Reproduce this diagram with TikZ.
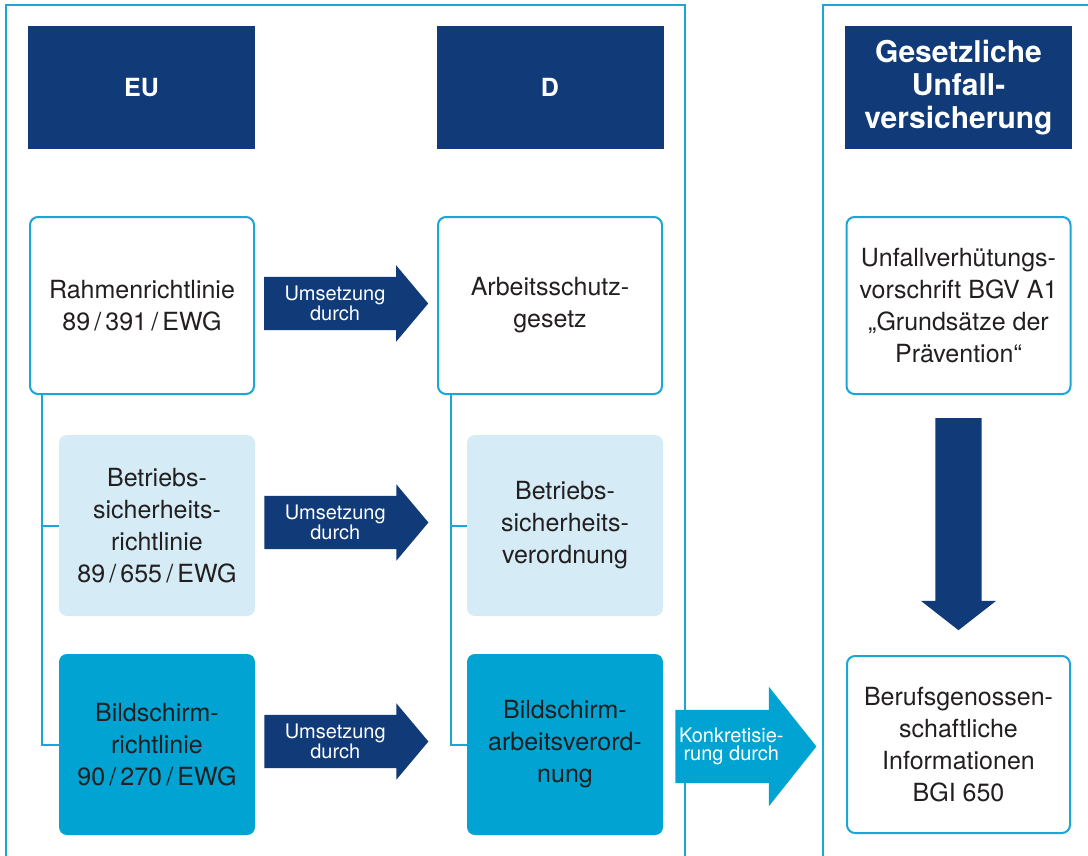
\documentclass[tikz,border=0pt]{standalone}
\usepackage{fontspec}
\setmainfont{TeX Gyre Heros}
\usetikzlibrary{shapes.arrows}
\definecolor{bgblue}{HTML}{103A78}
\definecolor{bgcyan}{HTML}{1AA6D6}
\definecolor{bglight}{HTML}{D5ECF6}
\definecolor{bgdark}{HTML}{00A3D1}
\definecolor{bgtext}{HTML}{231F20}

\begin{document}
\begin{tikzpicture}[x=1pt, y=-1pt,
    head/.style={fill=bgblue, text=white, font=\fontsize{25}{33}\selectfont\bfseries,
      minimum width=227pt, minimum height=123pt, inner sep=0pt, align=center},
    box/.style={rounded corners=8pt, text=bgtext, font=\fontsize{25}{32}\selectfont,
      inner sep=0pt, align=center},
    lawbox/.style={box, draw=bgcyan, line width=2pt, fill=white, minimum width=224pt, minimum height=177pt},
    lightbox/.style={box, fill=bglight, minimum width=196pt, minimum height=181pt},
    darkbox/.style={box, fill=bgdark, minimum width=196pt, minimum height=181pt},
    umsetz/.style={single arrow, fill=bgblue, text=white, font=\fontsize{20}{17}\selectfont,
      align=center, single arrow head extend=11.5pt, single arrow tip angle=100,
      minimum height=164pt, inner xsep=2pt, inner ysep=9pt, anchor=tail},
    konkr/.style={umsetz, fill=bgdark, font=\fontsize{20}{18}\selectfont,
      single arrow head extend=23pt, single arrow tip angle=103, minimum height=141pt, inner ysep=18pt},
    downarrow/.style={single arrow, fill=bgblue, rotate=-90, anchor=tail, inner xsep=0pt, inner ysep=23pt,
      single arrow head extend=14.5pt, single arrow tip angle=104, minimum height=212pt},
    frame/.style={draw=bgcyan, line width=2pt},
    tree/.style={draw=bgcyan, line width=2pt}]

    \useasboundingbox (0,0) rectangle (1088,855);
    \draw[frame] (6,862) |- (685,5) -- (685,862);
    \draw[frame] (823,862) |- (1094,5);

    \node[head] (eu) at (141.5,87.5) {EU};
    \node[head] (d) at (550,87.5) {D};
    \node[head, font=\fontsize{30}{33}\selectfont\bfseries] (guv) at (958.5,87.5) {Gesetzliche\\Unfall-\\versicherung};

    \node[lawbox] (rahmen) at (142,305.5) {Rahmenrichtlinie\\89\,/\,391\,/\,EWG};
    \node[lawbox] (asg) at (550,305.5) {Arbeitsschutz-\\gesetz};
    \node[lawbox] (uvv) at (958.5,305.5) {Unfallverhütungs-\\vorschrift BGV A1\\„Grundsätze der\\Prävention“};

    \node[lightbox] (bsrl) at (157,525.5) {Betriebs-\\sicherheits-\\richtlinie\\89\,/\,655\,/\,EWG};
    \node[lightbox] (bsv) at (565,525.5) {Betriebs-\\sicherheits-\\verordnung};

    \node[darkbox] (bildrl) at (157,744.5) {Bildschirm-\\richtlinie\\90\,/\,270\,/\,EWG};
    \node[darkbox] (bav) at (565,744.5) {Bildschirm-\\arbeitsverord-\\nung};
    \node[lawbox, minimum width=223pt] (bgi) at (958.5,744.5) {Berufsgenossen-\\schaftliche\\Informationen\\BGI 650};

    \draw[tree] ([xshift=13pt]rahmen.south west) |- (bsrl.west);
    \draw[tree] ([xshift=13pt]rahmen.south west) |- (bildrl.west);
    \draw[tree] ([xshift=14pt]asg.south west) |- (bsv.west);
    \draw[tree] ([xshift=14pt]asg.south west) |- (bav.west);

    \node[umsetz] (u1) at ([xshift=9pt,yshift=2pt]rahmen.east) {Umsetzung\\durch};
    \node[umsetz] (u2) at ([xshift=9pt,yshift=3pt]bsrl.east) {Umsetzung\\durch};
    \node[umsetz] (u3) at ([xshift=9pt,yshift=3pt]bildrl.east) {Umsetzung\\durch};
    \node[konkr] (k) at ([xshift=12pt,yshift=-2pt]bav.east) {Konkretisie-\\rung durch};
    \node[downarrow] (pfeil) at ([yshift=-23pt]uvv.south) {};
  \end{tikzpicture}
\end{document}
